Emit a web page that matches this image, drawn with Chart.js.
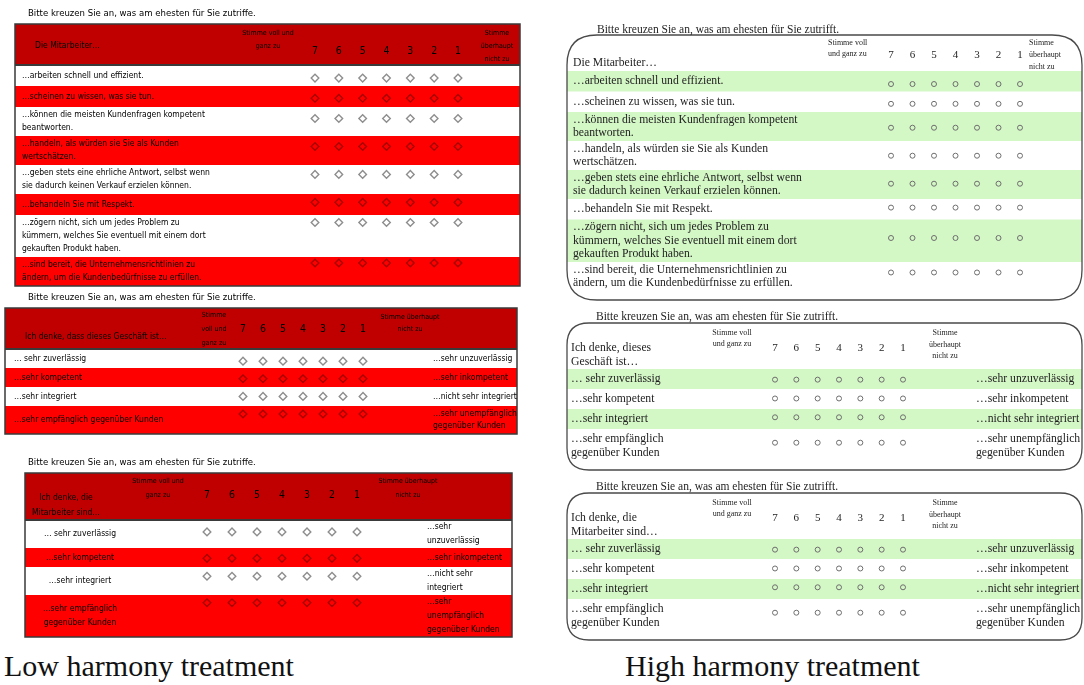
<!DOCTYPE html>
<html><head><meta charset="utf-8">
<script src="https://cdn.jsdelivr.net/npm/chart.js@4"></script>
<style>
html,body{margin:0;padding:0;background:#fff;}
#root{position:relative;width:1084px;height:685px;overflow:hidden;background:#fff;}
#root canvas{position:absolute;}
.cap{position:absolute;font-family:"Liberation Serif","Times New Roman",serif;font-size:30px;line-height:1;color:#111;white-space:nowrap;}
</style></head><body>
<div id="root">
<div class="cap" style="left:4px;top:651px">Low harmony treatment</div>
<div class="cap" style="left:625px;top:651px">High harmony treatment</div>
</div>
<script>
// ---------- DATA ----------
const ratings = [7, 6, 5, 4, 3, 2, 1];
const instructionLow = "Bitte kreuzen Sie an, was am ehesten für Sie zutriffe.";
const instructionHigh = "Bitte kreuzen Sie an, was am ehesten für Sie zutrifft.";
const anchorAgree = "Stimme voll und ganz zu";
const anchorDisagree = "Stimme überhaupt nicht zu";
const stemEmployees = "Die Mitarbeiter…";
const stemStoreLow = "Ich denke, dass dieses Geschäft ist…";
const stemStoreHigh = "Ich denke, dieses Geschäft ist…";
const stemStaff = "Ich denke, die Mitarbeiter sind…";
const itemsEmployees = [
  "…arbeiten schnell und effizient.",
  "…scheinen zu wissen, was sie tun.",
  "…können die meisten Kundenfragen kompetent\nbeantworten.",
  "…handeln, als würden sie Sie als Kunden\nwertschätzen.",
  "…geben stets eine ehrliche Antwort, selbst wenn\nsie dadurch keinen Verkauf erzielen können.",
  "…behandeln Sie mit Respekt.",
  "…zögern nicht, sich um jedes Problem zu\nkümmern, welches Sie eventuell mit einem dort\ngekauften Produkt haben.",
  "…sind bereit, die Unternehmensrichtlinien zu\nändern, um die Kundenbedürfnisse zu erfüllen."
];
const positivePoles = ["… sehr zuverlässig", "…sehr kompetent", "…sehr integriert", "…sehr empfänglich gegenüber Kunden"];
const negativePoles = ["…sehr unzuverlässig", "…sehr inkompetent", "…nicht sehr integriert", "…sehr unempfänglich gegenüber Kunden"];

// ---------- STYLE ----------
const lowFam = '"DejaVu Sans Condensed", "DejaVu Sans", sans-serif';
const serif = '"Liberation Serif", "DejaVu Serif", serif';
const themes = {
  low:  { title: '9.5px ' + lowFam, item: '8.5px ' + lowFam, small: '7px ' + lowFam, num: '10.5px ' + lowFam, color: '#000' },
  high: { title: '11.5px ' + serif, item: '11.7px ' + serif, small: '8px ' + serif, num: '11px ' + serif, color: '#1e1e1e' }
};

// ---------- LAYOUT ----------
const blocks = [
  { theme:'low', left:0, top:0, w:530, h:292,
    title:instructionLow, titleX:28, titleY:14,
    tableL:15, tableR:520, tableT:24, headB:65, x7:315, x1:458, numY:51,
    stem:{text:stemEmployees, x:35, y:46, w:160, ls:12, align:'left'},
    agree:{x:268, y:33, w:58, ls:13, align:'center'},
    dis:{x:497, y:33, w:42, ls:13, align:'center'},
    items:itemsEmployees, itemX:22, itemW:300, itemAlign:'left',
    minH:21, ls:13, extra:3, markerOff:10.5 },
  { theme:'low', left:0, top:288, w:530, h:150,
    title:instructionLow, titleX:28, titleY:298,
    tableL:5, tableR:517, tableT:308, headB:349, x7:243, x1:363, numY:329,
    stem:{text:stemStoreLow, x:25, y:337, w:200, ls:12, align:'left'},
    agree:{x:214, y:315, w:32, ls:14, align:'center'},
    dis:{x:410, y:317, w:72, ls:12, align:'center'},
    items:positivePoles, itemX:14, itemW:200, itemAlign:'left',
    right:negativePoles, rightX:433, rightW:88,
    minH:19, ls:12, extra:4, markerOff:12 },
  { theme:'low', left:0, top:450, w:530, h:195,
    title:instructionLow, titleX:28, titleY:463,
    tableL:25, tableR:512, tableT:473, headB:520, x7:207, x1:357, numY:495,
    stem:{text:stemStaff, x:66, y:498, w:80, ls:15, align:'center'},
    agree:{x:158, y:481, w:62, ls:14, align:'center'},
    dis:{x:408, y:481, w:70, ls:14, align:'center'},
    items:positivePoles, itemX:80, itemW:82, itemAlign:'center',
    right:negativePoles, rightX:427, rightW:78,
    minH:19, ls:14, extra:0, markerOff:11 },
  { theme:'high', left:555, top:18, w:529, h:287,
    title:instructionHigh, titleX:597, titleY:30,
    boxL:567, boxR:1082, boxT:35, boxB:300, radius:30,
    headB:71, x7:891, x1:1020, numY:55,
    stem:{text:stemEmployees, x:573, y:63, w:200, ls:14, align:'left'},
    agree:{x:828, y:43, w:50, ls:11, align:'left'},
    dis:{x:1029, y:43, w:42, ls:12, align:'left'},
    items:itemsEmployees, itemX:573, itemW:320, itemAlign:'left',
    minH:20.5, ls:13.5, extra:2 },
  { theme:'high', left:555, top:305, w:529, h:170,
    title:instructionHigh, titleX:596, titleY:317,
    boxL:567, boxR:1082, boxT:323, boxB:470, radius:22,
    headB:369, x7:775, x1:903, numY:348,
    stem:{text:stemStoreHigh, x:571, y:348, w:110, ls:14, align:'left'},
    agree:{x:732, y:333, w:50, ls:10.5, align:'center'},
    dis:{x:945, y:333, w:42, ls:11.5, align:'center'},
    items:positivePoles, itemX:571, itemW:125, itemAlign:'left',
    right:negativePoles, rightX:976, rightW:114,
    minH:20, ls:14, extra:6 },
  { theme:'high', left:555, top:475, w:529, h:170,
    title:instructionHigh, titleX:596, titleY:487,
    boxL:567, boxR:1082, boxT:493, boxB:640, radius:22,
    headB:539, x7:775, x1:903, numY:518,
    stem:{text:stemStaff, x:571, y:518, w:110, ls:14, align:'left'},
    agree:{x:732, y:503, w:50, ls:10.5, align:'center'},
    dis:{x:945, y:503, w:42, ls:11.5, align:'center'},
    items:positivePoles, itemX:571, itemW:125, itemAlign:'left',
    right:negativePoles, rightX:976, rightW:114,
    minH:20, ls:14, extra:6 }
];

// ---------- HELPERS ----------
const measureCtx = document.createElement('canvas').getContext('2d');
function wrap(ctx, text, maxW) {
  const lines = [];
  text.split('\n').forEach(par => {
    const words = par.split(' ');
    let cur = '';
    for (const w of words) {
      const t = cur ? cur + ' ' + w : w;
      if (cur && ctx.measureText(t).width > maxW) { lines.push(cur); cur = w; } else cur = t;
    }
    if (cur) lines.push(cur);
  });
  return lines;
}
function linesFrom(ctx, lines, x, yFirst, ls, align) {
  ctx.textAlign = align;
  lines.forEach((l, i) => ctx.fillText(l, x, yFirst + i * ls));
}
function linesCentered(ctx, lines, x, yMid, ls, align) {
  linesFrom(ctx, lines, x, yMid - (lines.length - 1) * ls / 2, ls, align);
}
function roundRectPath(ctx, x, y, w, h, r) {
  ctx.beginPath();
  ctx.moveTo(x + r, y); ctx.lineTo(x + w - r, y); ctx.quadraticCurveTo(x + w, y, x + w, y + r);
  ctx.lineTo(x + w, y + h - r); ctx.quadraticCurveTo(x + w, y + h, x + w - r, y + h);
  ctx.lineTo(x + r, y + h); ctx.quadraticCurveTo(x, y + h, x, y + h - r);
  ctx.lineTo(x, y + r); ctx.quadraticCurveTo(x, y, x + r, y); ctx.closePath();
}
function drawHeader(ctx, b, th, X) {
  ctx.fillStyle = th.color;
  ctx.font = th.item;
  linesFrom(ctx, wrap(ctx, b.stem.text, b.stem.w), b.stem.x, b.stem.y, b.stem.ls, b.stem.align);
  ctx.font = th.small;
  linesFrom(ctx, wrap(ctx, anchorAgree, b.agree.w), b.agree.x, b.agree.y, b.agree.ls, b.agree.align);
  linesFrom(ctx, wrap(ctx, anchorDisagree, b.dis.w), b.dis.x, b.dis.y, b.dis.ls, b.dis.align);
  ctx.font = th.num; ctx.textAlign = 'center';
  ratings.forEach(v => ctx.fillText(String(v), X(v), b.numY));
}
function drawItems(ctx, b, th) {
  ctx.fillStyle = th.color; ctx.font = th.item;
  b.rows.forEach(r => {
    const mid = r.top + r.h / 2;
    linesCentered(ctx, r.L, b.itemX, mid, b.ls, b.itemAlign);
    if (r.R.length) linesCentered(ctx, r.R, b.rightX, mid, b.ls, 'left');
  });
}
function drawLow(ctx, b, th, X) {
  const W = b.tableR - b.tableL;
  ctx.fillStyle = th.color; ctx.font = th.title; ctx.textAlign = 'left';
  ctx.fillText(b.title, b.titleX, b.titleY);
  ctx.fillStyle = '#c00000';
  ctx.fillRect(b.tableL, b.tableT, W, b.headB - b.tableT);
  b.rows.forEach((r, i) => { ctx.fillStyle = i % 2 ? '#ff0000' : '#ffffff'; ctx.fillRect(b.tableL, r.top, W, r.h); });
  ctx.strokeStyle = '#3a3a3a'; ctx.lineWidth = 1.5;
  ctx.strokeRect(b.tableL, b.tableT, W, b.bottom - b.tableT);
  ctx.lineWidth = 2; ctx.beginPath(); ctx.moveTo(b.tableL, b.headB); ctx.lineTo(b.tableR, b.headB); ctx.stroke();
  drawHeader(ctx, b, th, X);
  drawItems(ctx, b, th);
}
function drawHigh(ctx, b, th, X) {
  const W = b.boxR - b.boxL, H = b.boxB - b.boxT;
  ctx.save();
  roundRectPath(ctx, b.boxL, b.boxT, W, H, b.radius);
  ctx.clip();
  b.rows.forEach((r, i) => { if (i % 2 === 0) { ctx.fillStyle = '#d4f7c6'; ctx.fillRect(b.boxL, r.top, W, r.h); } });
  ctx.restore();
  ctx.strokeStyle = '#4a4a4a'; ctx.lineWidth = 1.3;
  roundRectPath(ctx, b.boxL, b.boxT, W, H, b.radius); ctx.stroke();
  ctx.fillStyle = th.color; ctx.font = th.title; ctx.textAlign = 'left';
  ctx.fillText(b.title, b.titleX, b.titleY);
  drawHeader(ctx, b, th, X);
  drawItems(ctx, b, th);
}

// ---------- BUILD ----------
const root = document.getElementById('root');
blocks.forEach((b, idx) => {
  const th = themes[b.theme];
  measureCtx.font = th.item;
  let y = b.headB;
  b.rows = b.items.map((t, i) => {
    const L = wrap(measureCtx, t, b.itemW);
    const R = b.right ? wrap(measureCtx, b.right[i], b.rightW) : [];
    const n = Math.max(L.length, R.length);
    const h = Math.max(b.minH, n * b.ls + b.extra);
    const row = { top: y, h, L, R };
    y += h;
    return row;
  });
  b.bottom = y;
  const sp = (b.x1 - b.x7) / 6;
  const canvas = document.createElement('canvas');
  canvas.width = b.w; canvas.height = b.h;
  canvas.style.left = b.left + 'px'; canvas.style.top = b.top + 'px';
  canvas.style.width = b.w + 'px'; canvas.style.height = b.h + 'px';
  root.appendChild(canvas);

  const points = [];
  b.rows.forEach((r, i) => ratings.forEach(v => points.push({
    x: v, y: b.theme === 'low' ? r.top + b.markerOff : r.top + r.h / 2, row: i
  })));

  const low = b.theme === 'low';
  new Chart(canvas, {
    type: 'scatter',
    data: { datasets: [{
      data: points,
      pointStyle: low ? 'rectRot' : 'circle',
      pointRadius: low ? 3.8 : 2.5,
      pointBorderWidth: low ? 1.4 : 1,
      pointBackgroundColor: 'rgba(0,0,0,0)',
      pointBorderColor: c => low ? ((c.raw && c.raw.row % 2) ? '#a80000' : '#8e8e8e') : '#6e6e6e',
      clip: false
    }]},
    options: {
      responsive: false, animation: false, events: [],
      layout: { padding: { left: b.x7 - sp / 2 - b.left, right: b.w - (b.x1 + sp / 2 - b.left), top: 0, bottom: 0 } },
      plugins: { legend: { display: false }, tooltip: { enabled: false } },
      scales: {
        x: { type: 'linear', min: 0.5, max: 7.5, reverse: true, display: false },
        y: { type: 'linear', min: b.top, max: b.top + b.h, reverse: true, display: false }
      }
    },
    plugins: [{
      id: 'form' + idx,
      beforeDatasetsDraw(chart) {
        const ctx = chart.ctx, xs = chart.scales.x;
        const X = v => xs.getPixelForValue(v) + b.left;
        ctx.save(); ctx.translate(-b.left, -b.top); ctx.textBaseline = 'middle';
        if (low) drawLow(ctx, b, th, X); else drawHigh(ctx, b, th, X);
        ctx.restore();
      }
    }]
  });
});
</script>
</body></html>
